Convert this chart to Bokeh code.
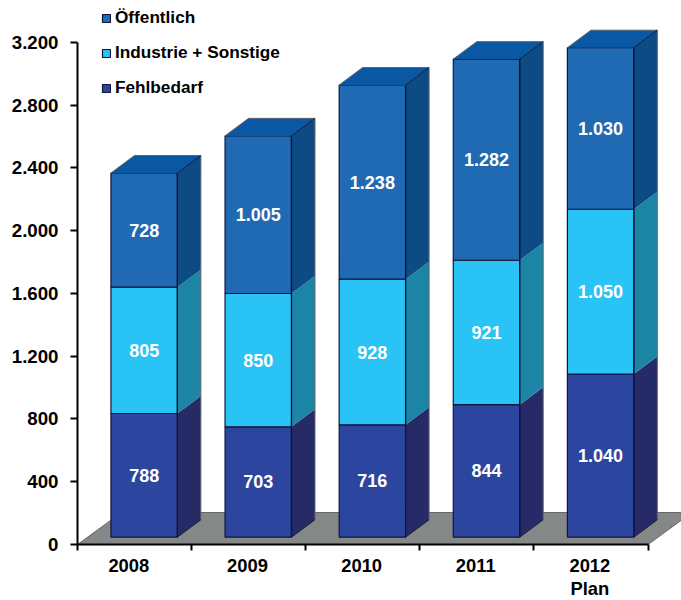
from bokeh.plotting import figure
from bokeh.models import FixedTicker, Legend, LegendItem, Range1d, LinearAxis
from bokeh.core.properties import value
from bokeh.embed import file_html
from bokeh.resources import INLINE

# Stacked yearly figures, bottom to top
years = ["2008", "2009", "2010", "2011", "2012\nPlan"]
fehlbedarf = [788, 703, 716, 844, 1040]
industrie = [805, 850, 928, 921, 1050]
oeffentlich = [728, 1005, 1238, 1282, 1030]
y_ticks = [0, 400, 800, 1200, 1600, 2000, 2400, 2800, 3200]

names = ["Fehlbedarf", "Industrie + Sonstige", "Öffentlich"]
series = [fehlbedarf, industrie, oeffentlich]
front_colors = ["#2C459E", "#29C3F5", "#1F6AB3"]
side_colors = ["#262A66", "#1C85A5", "#0D4B85"]
top_color = "#0A57A3"
floor_color = "#868888"
edge = "#10163A"
FONT = "Liberation Sans"

# Projection of the pseudo-3D boxes, in axis units
BAR_LEFT = 0.293
BAR_WIDTH = 0.582
DEPTH_X = 0.206
DEPTH_Y = 111.5
BASE_Y = 47
FLOOR_X = 0.385
FLOOR_Y = 204

p = figure(width=681, height=600, frame_width=604, frame_height=544,
           output_backend="svg", toolbar_location=None,
           x_range=Range1d(0, 5.293), y_range=Range1d(0, 3467.7),
           x_axis_location=None, y_axis_location=None,
           min_border_left=77, min_border_right=0, min_border_top=0, min_border_bottom=0,
           outline_line_color=None, background_fill_color="white", border_fill_color="white")
p.grid.visible = False

n = len(years)

# Grey floor
p.patch([0, n, n + FLOOR_X, FLOOR_X], [0, 0, FLOOR_Y, FLOOR_Y],
        fill_color=floor_color, line_color="#666868", line_width=1)

renderers = {}
bottoms = [BASE_Y] * n
for name, vals, fc, sc in zip(names, series, front_colors, side_colors):
    lefts = [i + BAR_LEFT for i in range(n)]
    rights = [x + BAR_WIDTH for x in lefts]
    tops = [b + v for b, v in zip(bottoms, vals)]

    # Right-hand side faces
    p.patches([[r, r + DEPTH_X, r + DEPTH_X, r] for r in rights],
              [[b, b + DEPTH_Y, t + DEPTH_Y, t] for b, t in zip(bottoms, tops)],
              fill_color=sc, line_color=None)

    renderers[name] = p.quad(left=lefts, right=rights, bottom=bottoms, top=tops,
                             fill_color=fc, line_color=edge, line_width=1.2)

    # Value labels centred on each front face
    p.text([x + BAR_WIDTH / 2 for x in lefts],
           [(b + t) / 2 for b, t in zip(bottoms, tops)],
           text=[f"{v:,}".replace(",", ".") for v in vals],
           text_color="white", text_font=value(FONT), text_font_style="bold",
           text_font_size="18px", text_align="center", text_baseline="middle")

    bottoms = tops

# Top faces and the outer silhouette of each box
lefts = [i + BAR_LEFT for i in range(n)]
rights = [x + BAR_WIDTH for x in lefts]
p.patches([[l, r, r + DEPTH_X, l + DEPTH_X] for l, r in zip(lefts, rights)],
          [[t, t, t + DEPTH_Y, t + DEPTH_Y] for t in bottoms],
          fill_color=top_color, line_color=None)
p.multi_line([[l, l + DEPTH_X, r + DEPTH_X, r + DEPTH_X, r] for l, r in zip(lefts, rights)],
             [[t, t + DEPTH_Y, t + DEPTH_Y, BASE_Y + DEPTH_Y, BASE_Y] for t in bottoms],
             line_color="#5F6468", line_width=1)
p.multi_line([[r, r + DEPTH_X] for r in rights],
             [[t, t + DEPTH_Y] for t in bottoms],
             line_color=edge, line_width=1)
p.multi_line([[r, r + DEPTH_X] for r in rights],
             [[BASE_Y, BASE_Y + DEPTH_Y] for _ in rights],
             line_color=edge, line_width=1)
p.multi_line([[r, r] for r in rights],
             [[BASE_Y, t] for t in bottoms],
             line_color=edge, line_width=1.2)

# Value axis
yax = LinearAxis(ticker=FixedTicker(ticks=y_ticks),
                 major_label_overrides={t: f"{t:,}".replace(",", ".") for t in y_ticks},
                 bounds=(0, 3200))
yax.axis_line_color = "black"
yax.axis_line_width = 2
yax.major_tick_line_color = "black"
yax.major_tick_line_width = 2
yax.major_tick_out = 7
yax.major_tick_in = 0
yax.minor_tick_out = 0
yax.minor_tick_in = 0
yax.major_label_standoff = 12
yax.major_label_text_font = FONT
yax.major_label_text_font_style = "bold"
yax.major_label_text_font_size = "18.7px"
yax.major_label_text_color = "black"
p.add_layout(yax, "left")

# Category axis: tick marks on the boundaries, labels in between
label_pos = [0.45, 1.49, 2.49, 3.49, 4.49]
xax = LinearAxis(ticker=FixedTicker(ticks=label_pos, minor_ticks=list(range(n + 1))),
                 major_label_overrides=dict(zip(label_pos, years)),
                 bounds=(0, n))
xax.axis_line_color = "black"
xax.axis_line_width = 2
xax.major_tick_line_color = None
xax.major_tick_out = 0
xax.major_tick_in = 0
xax.minor_tick_line_color = "black"
xax.minor_tick_line_width = 2
xax.minor_tick_out = 6
xax.minor_tick_in = 0
xax.major_label_standoff = 4
xax.major_label_text_font = FONT
xax.major_label_text_font_style = "bold"
xax.major_label_text_font_size = "18.4px"
xax.major_label_text_line_height = 1.1
xax.major_label_text_color = "black"
p.add_layout(xax, "below")

legend = Legend(items=[LegendItem(label=nm, renderers=[renderers[nm]]) for nm in reversed(names)],
                location=(24, 446), orientation="vertical",
                background_fill_alpha=0, border_line_color=None,
                padding=0, margin=0, spacing=14,
                glyph_width=10, glyph_height=10, label_standoff=4,
                label_text_font=FONT, label_text_font_style="bold",
                label_text_font_size="17.2px", label_text_color="black")
p.add_layout(legend, "center")

open("out.html", "w").write(file_html(p, INLINE))
